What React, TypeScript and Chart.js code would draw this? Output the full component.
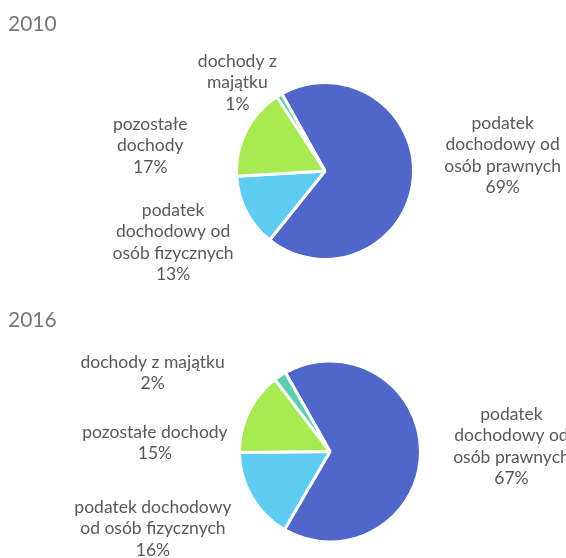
import React, { useEffect, useRef } from 'react';
import { Chart, registerables } from 'chart.js';

Chart.register(...registerables);

// ---- data ----
const categories = [
  'podatek dochodowy od osób prawnych',
  'podatek dochodowy od osób fizycznych',
  'pozostałe dochody',
  'dochody z majątku',
];
const years = ['2010', '2016'];
const values2010 = [68.9, 13.3, 16.8, 1.0];
const values2016 = [66.6, 16.4, 14.8, 2.2];
const colors = ['#4E67C8', '#5ECCF3', '#A7EA52', '#5DCEAF'];

// label line breaks (text only)
const labelLines2010 = [
  ['podatek', 'dochodowy od', 'osób prawnych'],
  ['podatek', 'dochodowy od', 'osób fizycznych'],
  ['pozostałe', 'dochody'],
  ['dochody z', 'majątku'],
];
const labelLines2016 = [
  ['podatek', 'dochodowy od', 'osób prawnych'],
  ['podatek dochodowy', 'od osób fizycznych'],
  ['pozostałe dochody'],
  ['dochody z majątku'],
];

// label placement around the pie: angle (deg, clockwise from top) and distance in radii
const labelAngle2010 = [84.9, 244.8, 278.3, 315.2];
const labelDist2010 = [2.05, 1.93, 2.03, 1.43];
const labelAngle2016 = [88.3, 246.5, 272.9, 293.9];
const labelDist2016 = [2.04, 2.17, 1.97, 2.18];

const LABEL_FONT = '17.5px Lato, "Noto Sans", sans-serif';
const TITLE_FONT = '21px Lato, "Noto Sans", sans-serif';
const BORDER = 3;

const labelPlugin = {
  id: 'pieLabels',
  afterDatasetsDraw(chart: any, _args: any, opts: any) {
    const ctx = chart.ctx;
    const meta = chart.getDatasetMeta(0);
    const data = chart.data.datasets[0].data as number[];
    const total = data.reduce((a, b) => a + b, 0);
    ctx.save();
    // title
    ctx.font = TITLE_FONT;
    ctx.fillStyle = '#777777';
    ctx.textAlign = 'left';
    ctx.textBaseline = 'middle';
    ctx.fillText(opts.title, opts.titleX, opts.titleY);

    ctx.font = LABEL_FONT;
    ctx.fillStyle = '#595959';
    ctx.textAlign = 'center';
    const lh = opts.lineHeight;
    meta.data.forEach((arc: any, i: number) => {
      const p = arc.getProps(['x', 'y', 'outerRadius'], true);
      const r = p.outerRadius - BORDER / 2;
      const a = (opts.angles[i] * Math.PI) / 180;
      const d = opts.dists[i] * r;
      const cx = p.x + Math.sin(a) * d;
      const cy = p.y - Math.cos(a) * d;
      const pct = Math.round((data[i] / total) * 100) + '%';
      const lines = [...opts.lines[i], pct];
      const y0 = cy - ((lines.length - 1) / 2) * lh;
      lines.forEach((t: string, k: number) => ctx.fillText(t, cx, y0 + k * lh));
    });
    ctx.restore();
  },
};

type PieProps = {
  year: string;
  values: number[];
  lines: string[][];
  angles: number[];
  dists: number[];
  height: number;
  padding: { top: number; left: number; right: number; bottom: number };
  radius: number;
  rotation: number;
  titleY: number;
};

function PieChart(props: PieProps) {
  const ref = useRef<HTMLCanvasElement>(null);
  useEffect(() => {
    if (!ref.current) return;
    const chart = new Chart(ref.current, {
      type: 'pie',
      data: {
        labels: categories,
        datasets: [
          {
            data: props.values,
            backgroundColor: colors,
            borderColor: '#ffffff',
            borderWidth: BORDER,
          },
        ],
      },
      options: {
        animation: false,
        responsive: true,
        maintainAspectRatio: false,
        radius: props.radius,
        rotation: props.rotation,
        layout: { padding: props.padding },
        plugins: {
          legend: { display: false },
          tooltip: { enabled: false },
          title: { display: false },
          pieLabels: {
            title: props.year,
            titleX: 8,
            titleY: props.titleY,
            lines: props.lines,
            angles: props.angles,
            dists: props.dists,
            lineHeight: 21.5,
          },
        } as any,
      } as any,
      plugins: [labelPlugin],
    });
    return () => chart.destroy();
  }, []);
  return (
    <div style={{ position: 'relative', width: 566, height: props.height }}>
      <canvas ref={ref} />
    </div>
  );
}

export default function App() {
  return (
    <div
      style={{
        position: 'fixed',
        left: 0,
        top: 0,
        width: 566,
        height: 558,
        overflow: 'hidden',
        background: '#ffffff',
      }}
    >
      <PieChart
        year={years[0]}
        values={values2010}
        lines={labelLines2010}
        angles={labelAngle2010}
        dists={labelDist2010}
        height={290}
        padding={{ top: 52, left: 84, right: 0, bottom: 0 }}
        radius={88.5}
        rotation={-29.3}
        titleY={24}
      />
      <PieChart
        year={years[1]}
        values={values2016}
        lines={labelLines2016}
        angles={labelAngle2016}
        dists={labelDist2016}
        height={268}
        padding={{ top: 55, left: 94, right: 0, bottom: 0 }}
        radius={90.5}
        rotation={-29.5}
        titleY={30}
      />
    </div>
  );
}
